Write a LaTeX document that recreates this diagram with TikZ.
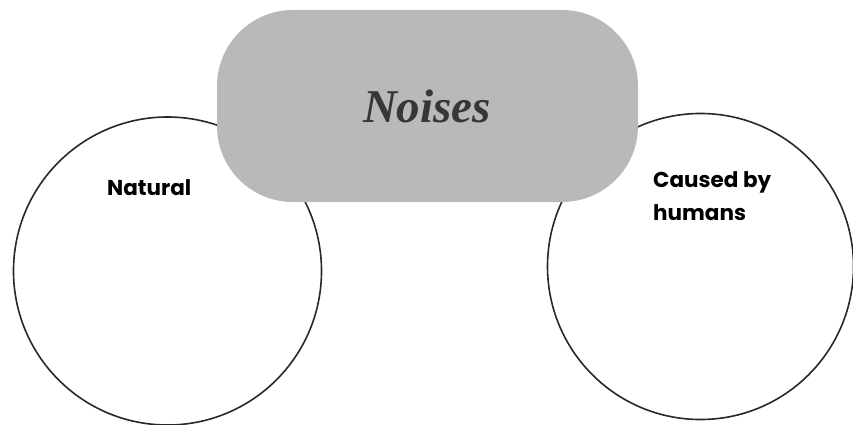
\documentclass[tikz,border=0pt]{standalone}
\usepackage{fontspec}
\newfontfamily\labelfont{Poppins}
\newfontfamily\titlefont{Liberation Serif}
\definecolor{pillgray}{RGB}{185,185,185}
\definecolor{titlegray}{RGB}{55,55,55}
\definecolor{ringgray}{RGB}{40,40,40}
\begin{document}
\begin{tikzpicture}[x=1pt,y=-1pt,
  ring/.style={circle,draw=ringgray,line width=1.6pt,fill=white,inner sep=0pt},
  pill/.style={rectangle,rounded corners=76pt,fill=pillgray,draw=none,
    minimum width=421pt,minimum height=192pt,inner sep=0pt},
  lbl/.style={font=\labelfont\bfseries\fontsize{21.5}{33}\selectfont,text=black,align=left,inner sep=0pt}]
\useasboundingbox (0,0) rectangle (853,425);
\node[ring,minimum size=308pt] (natural) at (167.5,271) {};
\node[ring,minimum size=306pt] (human) at (700.5,266.5) {};
\node[pill] (noises) at (427.5,106) {};
\node[font=\titlefont\bfseries\itshape\fontsize{47}{47}\selectfont,text=titlegray,anchor=base,inner sep=0pt] (title) at (427,122) {Noises};
\node[lbl,anchor=base west] (nat) at (107,195) {Natural};
\node[lbl,anchor=base west] (cau) at (653,220) {Caused by\\humans};
\end{tikzpicture}
\end{document}
